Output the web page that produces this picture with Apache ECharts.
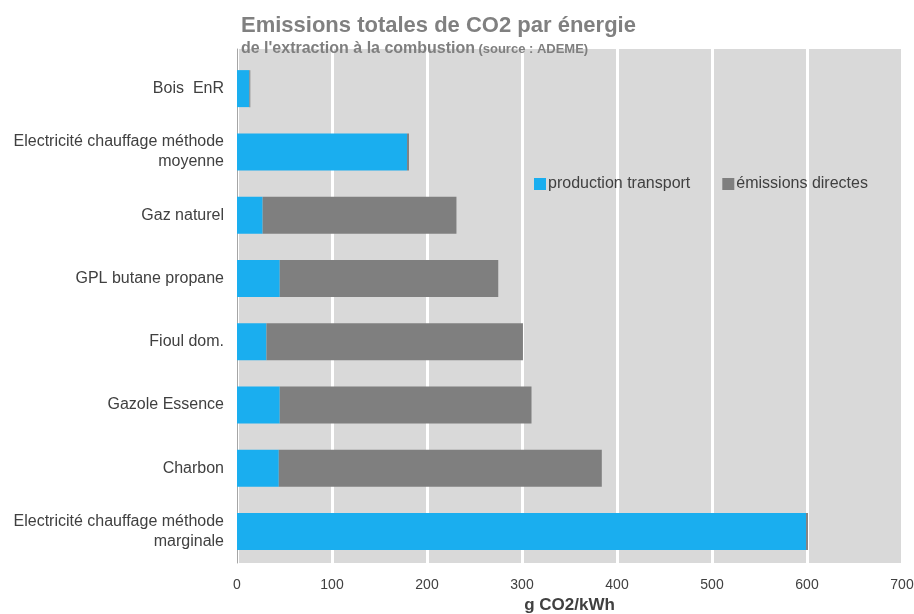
<!DOCTYPE html>
<html>
<head>
<meta charset="utf-8">
<script src="https://cdn.jsdelivr.net/npm/echarts@6/dist/echarts.min.js"></script>
<style>
  html, body { margin: 0; padding: 0; background: #fff; }
  #chart { width: 914px; height: 614px; }
</style>
</head>
<body>
<div id="chart"></div>
<script>
// categories, top to bottom as in the picture
const categories = [
  'Bois  EnR',
  'Electricité chauffage méthode\nmoyenne',
  'Gaz naturel',
  'GPL butane propane',
  'Fioul dom.',
  'Gazole Essence',
  'Charbon',
  'Electricité chauffage méthode\nmarginale'
];
const productionTransport = [13, 179, 27, 45, 31, 45, 44, 599];
const emissionsDirectes = [1, 2, 204, 230, 270, 265, 340, 2];
const xTicks = [0, 100, 200, 300, 400, 500, 600, 700];

const chart = echarts.init(document.getElementById('chart'));

const font = 'Liberation Sans, Arial, sans-serif';

// white vertical grid lines, shared by the main grid and the thin strip above it
const splitWhite = { show: true, lineStyle: { color: '#ffffff', width: 3 } };

const option = {
  animation: false,
  textStyle: { fontFamily: font },
  title: {
    left: 236,
    top: 10,
    itemGap: 4,
    z: 10,
    text: 'Emissions totales de CO2 par énergie',
    textStyle: { fontSize: 22, fontWeight: 'bold', color: '#808080', fontFamily: font },
    subtext: '{a|de l\'extraction à la combustion} {b|(source : ADEME)}',
    subtextStyle: {
      rich: {
        a: { fontSize: 16, fontWeight: 'bold', color: '#7f7f7f', fontFamily: font },
        b: { fontSize: 13, fontWeight: 'bold', color: '#7f7f7f', fontFamily: font }
      }
    }
  },
  legend: {
    left: 529,
    top: 171,
    icon: 'rect',
    itemWidth: 12,
    itemHeight: 12,
    itemGap: 32,
    textStyle: { fontSize: 16, color: '#404040', fontFamily: font, padding: [0, 0, 0, -3] },
    data: ['production transport', 'émissions directes']
  },
  grid: [
    {
      left: 237,
      right: 12,
      top: 57,
      bottom: 51,
      outerBoundsMode: 'none',
      show: true,
      backgroundColor: '#d9d9d9',
      borderWidth: 0
    },
    {
      // gray strip that continues the plot area above the first bar
      left: 237,
      right: 12,
      top: 49,
      height: 8,
      outerBoundsMode: 'none',
      show: true,
      backgroundColor: '#d9d9d9',
      borderWidth: 0
    }
  ],
  xAxis: [
    {
      type: 'value',
      gridIndex: 0,
      min: 0,
      max: 700,
      interval: 100,
      name: 'g CO2/kWh',
      nameLocation: 'middle',
      nameGap: 33,
      nameTextStyle: { fontSize: 17, fontWeight: 'bold', color: '#404040' },
      axisLine: { show: false },
      axisTick: { show: false },
      axisLabel: {
        fontSize: 14,
        color: '#404040',
        margin: 15,
        formatter: v => xTicks.includes(v) ? String(v) : ''
      },
      splitLine: splitWhite
    },
    {
      type: 'value',
      gridIndex: 1,
      min: 0,
      max: 700,
      interval: 100,
      axisLine: { show: false },
      axisTick: { show: false },
      axisLabel: { show: false },
      splitLine: splitWhite
    }
  ],
  yAxis: [
    {
      type: 'category',
      gridIndex: 0,
      inverse: true,
      data: categories,
      axisLine: { show: true, lineStyle: { color: '#a6a6a6', width: 1 } },
      axisTick: { show: false },
      axisLabel: {
        fontSize: 16,
        color: '#404040',
        margin: 13,
        lineHeight: 20,
        align: 'right'
      }
    },
    {
      type: 'value',
      gridIndex: 1,
      axisLine: { show: true, onZero: false, lineStyle: { color: '#a6a6a6', width: 1 } },
      axisTick: { show: false },
      axisLabel: { show: false },
      splitLine: { show: false }
    }
  ],
  series: [
    {
      name: 'production transport',
      type: 'bar',
      stack: 'total',
      barWidth: 37,
      itemStyle: { color: '#1aaeef' },
      data: productionTransport
    },
    {
      name: 'émissions directes',
      type: 'bar',
      stack: 'total',
      barWidth: 37,
      itemStyle: { color: '#7f7f7f' },
      data: emissionsDirectes
    }
  ]
};

chart.setOption(option);
</script>
</body>
</html>
